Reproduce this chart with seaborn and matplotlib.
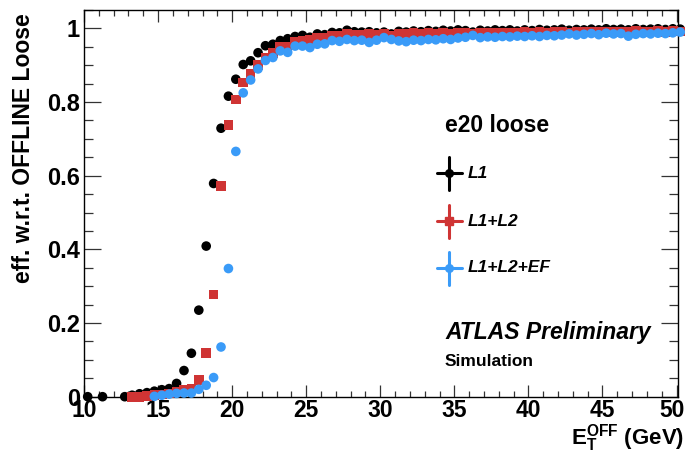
import numpy as np
import pandas as pd
import matplotlib
matplotlib.use("Agg")
import matplotlib.pyplot as plt
import matplotlib.transforms as mtransforms
from matplotlib.lines import Line2D
from matplotlib.ticker import MultipleLocator, FixedLocator
import seaborn as sns

# 0.5 GeV bins, centres from 10.25 to 50.25 GeV
bin_centres = np.arange(10.25, 50.3, 0.5)
N = None

eff_l1 = [0.000, N, 0.000, N, N, 0.000,
          0.004, 0.008, 0.011, 0.015, 0.019, 0.022, 0.036, 0.071, 0.118, 0.235,
          0.409, 0.579, 0.729, 0.816, 0.862, 0.902, 0.912, 0.934, 0.953, 0.957,
          0.967, 0.972, 0.978, 0.981, 0.976, 0.985, 0.983, 0.989, 0.988, 0.995,
          0.991, 0.990, 0.991, 0.988, 0.990, 0.985, 0.992, 0.990, 0.993, 0.991,
          0.994, 0.992, 0.995, 0.993, 0.996, 0.994, 0.990, 0.995, 0.993, 0.996,
          0.994, 0.996, 0.993, 0.996, 0.994, 0.997, 0.995, 0.996, 0.998, 0.995,
          0.997, 0.996, 0.998, 0.996, 0.999, 0.997, 0.998, 0.996, 0.999, 0.997,
          0.998, 0.999, 0.997, 0.999, 0.998]

eff_l1l2 = [N, N, N, N, N, N,
            0.000, 0.000, 0.002, 0.004, 0.006, 0.009, 0.012, 0.018, 0.022, 0.045,
            0.119, 0.278, 0.572, 0.738, 0.807, 0.853, 0.878, 0.900, 0.921, 0.933,
            0.949, 0.951, 0.963, 0.965, 0.968, 0.975, 0.975, 0.981, 0.980, 0.986,
            0.983, 0.982, 0.984, 0.983, 0.985, 0.981, 0.986, 0.985, 0.987, 0.984,
            0.988, 0.986, 0.987, 0.986, 0.989, 0.987, 0.986, 0.988, 0.987, 0.989,
            0.988, 0.989, 0.987, 0.990, 0.988, 0.990, 0.989, 0.990, 0.991, 0.989,
            0.991, 0.990, 0.992, 0.990, 0.992, 0.991, 0.992, 0.990, 0.993, 0.991,
            0.992, 0.993, 0.991, 0.993, 0.992]

eff_l1l2ef = [N, N, N, N, N, N, N, N, N,
              0.001, 0.004, 0.007, 0.009, 0.010, 0.010, 0.020,
              0.031, 0.052, 0.135, 0.348, 0.666, 0.825, 0.860, 0.890, 0.913, 0.921,
              0.939, 0.935, 0.952, 0.952, 0.948, 0.957, 0.958, 0.967, 0.965, 0.970,
              0.967, 0.968, 0.962, 0.968, 0.975, 0.970, 0.966, 0.964, 0.968, 0.967,
              0.970, 0.969, 0.972, 0.970, 0.974, 0.976, 0.981, 0.975, 0.977, 0.976,
              0.978, 0.977, 0.979, 0.978, 0.980, 0.978, 0.981, 0.980, 0.982, 0.985,
              0.982, 0.984, 0.986, 0.983, 0.987, 0.985, 0.986, 0.979, 0.984, 0.986,
              0.985, 0.987, 0.986, 0.988, 0.990]

series_names = ["L1", "L1+L2", "L1+L2+EF"]
series_values = [eff_l1, eff_l1l2, eff_l1l2ef]
series_colors = {"L1": "#000000", "L1+L2": "#cf3434", "L1+L2+EF": "#3a9bf8"}
series_markers = {"L1": "o", "L1+L2": "s", "L1+L2+EF": "o"}

x_ticks = [10, 15, 20, 25, 30, 35, 40, 45, 50]
y_ticks = [0, 0.2, 0.4, 0.6, 0.8, 1.0]
y_tick_labels = ["0", "0.2", "0.4", "0.6", "0.8", "1"]

frames = []
for name, vals in zip(series_names, series_values):
    frames.append(pd.DataFrame({"et": bin_centres, "eff": vals, "trigger": name}))
df = pd.concat(frames, ignore_index=True).dropna()
df["eff"] = df["eff"].astype(float)

sns.set_theme(style="ticks")
plt.rcParams["font.family"] = ["Liberation Sans", "DejaVu Sans"]
plt.rcParams["font.weight"] = "bold"
plt.rcParams["text.color"] = "black"
plt.rcParams["axes.labelcolor"] = "black"
plt.rcParams["xtick.labelcolor"] = "black"
plt.rcParams["ytick.labelcolor"] = "black"
plt.rcParams["mathtext.fontset"] = "custom"
plt.rcParams["mathtext.rm"] = "Liberation Sans:bold"
plt.rcParams["mathtext.bf"] = "Liberation Sans:bold"
plt.rcParams["mathtext.it"] = "Liberation Sans:bold:italic"

W, H = 687, 454
fig = plt.figure(figsize=(W / 100, H / 100), dpi=100)
ax = fig.add_axes([84 / W, 1 - 396.7 / H, (678 - 84) / W, (396.7 - 10) / H])

sns.scatterplot(data=df, x="et", y="eff", hue="trigger", style="trigger",
                hue_order=series_names, style_order=series_names,
                palette=series_colors, markers=series_markers,
                s=48, linewidth=0, ax=ax, legend=False, clip_on=False, zorder=3)

ax.set_xlim(10, 50.1)
ax.set_ylim(0, 1.05)
ax.set_xlabel("")
ax.set_ylabel("")

ax.xaxis.set_major_locator(FixedLocator(x_ticks))
ax.xaxis.set_minor_locator(MultipleLocator(1))
ax.set_yticks(y_ticks)
ax.set_yticklabels(y_tick_labels)
ax.yaxis.set_minor_locator(MultipleLocator(0.05))

ax.tick_params(axis="both", which="both", direction="in", top=True, right=True,
               color="#333333", width=0.9, labelcolor="black")
ax.tick_params(axis="x", which="major", length=8.6, labelsize=16.5, pad=2)
ax.tick_params(axis="x", which="minor", length=4.3)
ax.tick_params(axis="y", which="major", length=12, labelsize=17, pad=3)
ax.tick_params(axis="y", which="minor", length=6.2)
for lab in ax.get_xticklabels() + ax.get_yticklabels():
    lab.set_fontweight("bold")
for sp in ax.spines.values():
    sp.set_color("black")
    sp.set_linewidth(1.0)

# keep the last x label inside the canvas
last_lab = ax.get_xticklabels()[-1]
last_lab.set_transform(last_lab.get_transform() +
                       mtransforms.ScaledTranslation(-4 / 100, 0, fig.dpi_scale_trans))


def fxy(px, py):
    return px / W, 1 - py / H


# axis titles
fig.text(*fxy(24, 13), "eff. w.r.t. OFFLINE Loose", rotation=90,
         ha="center", va="top", fontsize=16.5, fontweight="bold")
fig.text(*fxy(684, 445), r"$\mathbf{E}_{\mathbf{T}}^{\mathbf{OFF}}$ (GeV)",
         ha="right", va="baseline", fontsize=16, fontweight="bold")

# legend block
fig.text(*fxy(445, 125), "e20 loose", ha="left", va="center",
         fontsize=16.5, fontweight="bold")
legend_rows = [173, 221, 268]
for name, py in zip(series_names, legend_rows):
    c = series_colors[name]
    cx, cy = fxy(449.5, py)
    fig.add_artist(Line2D([cx - 12.5 / W, cx + 12.5 / W], [cy, cy],
                          color=c, lw=2.2, transform=fig.transFigure))
    fig.add_artist(Line2D([cx, cx], [cy - 16.5 / H, cy + 16.5 / H],
                          color=c, lw=2.2, transform=fig.transFigure))
    fig.add_artist(Line2D([cx], [cy], marker=series_markers[name], color=c,
                          markersize=5.5, linestyle="none",
                          transform=fig.transFigure))
    fig.text(*fxy(468, py), name, ha="left", va="center", fontsize=12.5,
             fontweight="bold", fontstyle="italic")

fig.text(*fxy(445, 333), "ATLAS Preliminary", ha="left", va="center",
         fontsize=16.5, fontweight="bold", fontstyle="italic")
fig.text(*fxy(445, 362), "Simulation", ha="left", va="center",
         fontsize=12.5, fontweight="bold")

fig.savefig("out.png", dpi=100)
